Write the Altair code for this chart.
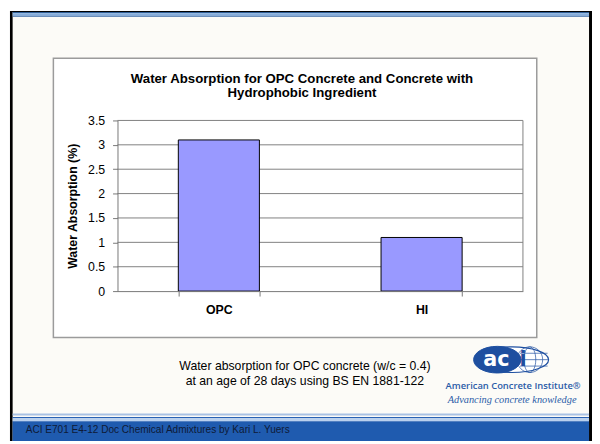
import altair as alt
import pandas as pd

# ---------------- data ----------------
categories = ["OPC", "HI"]
absorption = [3.1, 1.1]
y_ticks = [0, 0.5, 1, 1.5, 2, 2.5, 3, 3.5]
grid_values = [0.5, 1, 1.5, 2, 2.5, 3, 3.5]

title_lines = ["Water Absorption for OPC Concrete and Concrete with", "Hydrophobic Ingredient"]
y_title = "Water Absorption (%)"
caption_lines = ["Water absorption for OPC concrete (w/c = 0.4)",
                 "at an age of 28 days using BS EN 1881-122"]
footer_text = "ACI  E701 E4-12 Doc  Chemical Admixtures by Kari L. Yuers"
logo_name = "American Concrete Institute\u00ae"
logo_motto = "Advancing concrete knowledge"

df = pd.DataFrame({"cat": categories, "val": absorption})
grid_df = pd.DataFrame({"g": grid_values})

# ---------------- layout helpers ----------------
W, H = 411, 173
OX, OY = 119, 119  # page position of plot origin
FONT = "Liberation Sans"
BLUE = "#1E4FA0"


def px(x):
    return x - OX


def py(y):
    return y - OY


one = alt.Data(values=[{"a": 1}])


def rect(x1, y1, x2, y2, **kw):
    return alt.Chart(one).mark_rect(**kw).encode(
        x=alt.value(px(x1)), x2=alt.value(px(x2)),
        y=alt.value(py(y1)), y2=alt.value(py(y2)))


def text(x, y, t, **kw):
    return alt.Chart(one).mark_text(text=t, **kw).encode(
        x=alt.value(px(x)), y=alt.value(py(y)))


def ellipse(cx, cy, rx, ry, **kw):
    a = rx / ry
    k = 0.5523
    path = (f"M{-a},0 C{-a},{-k} {-k*a},-1 0,-1 C{k*a},-1 {a},{-k} {a},0 "
            f"C{a},{k} {k*a},1 0,1 C{-k*a},1 {-a},{k} {-a},0 Z")
    return alt.Chart(one).mark_point(shape=path, size=(2 * ry) ** 2, opacity=1, **kw).encode(
        x=alt.value(px(cx)), y=alt.value(py(cy)))


def hline(x1, x2, y, **kw):
    return alt.Chart(one).mark_rule(**kw).encode(
        x=alt.value(px(x1)), x2=alt.value(px(x2)), y=alt.value(py(y)))


# ---------------- slide decoration ----------------
deco = [
    rect(10, 8, 600, 444, fill="black"),
    rect(12.7, 9, 597, 444, fill="#FCFBF7"),
    # top stripes
    rect(12.7, 9, 597, 10.3, fill="#2F5F98"),
    rect(12.7, 10.3, 597, 12.8, fill="#86AEDC"),
    rect(12.7, 12.8, 597, 14, fill="#3A6AA6"),
    # footer
    rect(12.7, 416, 597, 418, fill="#A9C2E4"),
    rect(12.7, 419.5, 597, 421, fill="#2A62B4"),
    rect(12.7, 421, 597, 424, fill="#B9D0EE"),
    rect(12.7, 424, 597, 444, fill="#1F5BAF"),
    text(26, 433, footer_text, font=FONT, fontSize=10.2, color="#0E1A36", align="left", baseline="middle"),
    # chart box
    rect(54, 56, 544, 339, fill="white", stroke="#9B9B9B", strokeWidth=1.5),
    # caption
    text(309, 368.3, caption_lines, font=FONT, fontSize=12.4, lineHeight=15, color="black",
         align="center", baseline="middle"),
    # logo
    ellipse(519, 361.5, 37, 13, fill="white", stroke=BLUE, strokeWidth=1.2),
    ellipse(537, 361.5, 6, 13, fill="transparent", stroke=BLUE, strokeWidth=0.7),
    ellipse(537, 361.5, 13, 13, fill="transparent", stroke=BLUE, strokeWidth=0.7),
    hline(527, 555, 355, color=BLUE, strokeWidth=0.7),
    hline(527, 556, 361.5, color=BLUE, strokeWidth=0.7),
    hline(527, 555, 368, color=BLUE, strokeWidth=0.7),
    ellipse(504, 361.5, 24, 13.5, fill=BLUE, stroke=BLUE, strokeWidth=1),
    text(503, 362, "ac", font="DejaVu Sans", fontSize=21, fontWeight="bold", color="white",
         align="center", baseline="middle"),
    text(530, 362, "i", font="DejaVu Sans", fontSize=21, fontWeight="bold", color=BLUE,
         align="center", baseline="middle"),
    text(520, 388, logo_name, font="Open Sans", fontSize=9.5, fontWeight=600, color="#2B5BA8",
         align="center", baseline="middle"),
    text(519, 402, logo_motto, font="Liberation Serif", fontSize=10.5, fontStyle="italic",
         color="#2B5BA8", align="center", baseline="middle"),
    # chart title
    text(306, 76.7, title_lines, font=FONT, fontSize=13.4, fontWeight="bold", lineHeight=15,
         color="black", align="center", baseline="middle"),
]

# ---------------- chart ----------------
y_scale = alt.Scale(domain=[0, 3.5], nice=False)
y_axis = alt.Axis(values=y_ticks, format="~g", title=y_title, titleFont=FONT,
                  titleFontSize=12.5, titleFontWeight="bold", titleColor="black",
                  labelFont=FONT, labelFontSize=12.5, labelColor="black",
                  tickSize=5, tickColor="#777777", domainColor="#777777",
                  labelPadding=8, titlePadding=8, grid=False, zindex=2)

grid = alt.Chart(grid_df).mark_rule(color="#808080", strokeWidth=1).encode(
    y=alt.Y("g:Q", scale=y_scale, axis=y_axis),
    x=alt.value(0), x2=alt.value(W))

right_border = alt.Chart(one).mark_rule(color="#808080", strokeWidth=1).encode(
    x=alt.value(W), y=alt.value(0), y2=alt.value(H))

bars = alt.Chart(df).mark_bar(fill="#9999FF", stroke="black", strokeWidth=1).encode(
    x=alt.X("cat:N", sort=categories,
            scale=alt.Scale(paddingInner=0.6, paddingOuter=0.3),
            axis=alt.Axis(title=None, labelFont=FONT, labelFontSize=12.5, labelFontWeight="bold",
                          labelColor="black", labelAngle=0, domainColor="#777777",
                          tickColor="#777777", tickSize=5, tickBand="extent",
                          labelPadding=8, grid=False, zindex=2)),
    y=alt.Y("val:Q", scale=y_scale, axis=y_axis),
)

chart = alt.layer(*deco, grid, right_border, bars).properties(
    width=W, height=H,
    padding={"left": 111, "top": 111, "right": 70, "bottom": 152},
    autosize=alt.AutoSizeParams(type="none"),
    background="white",
).configure_view(stroke=None)

chart.save("out.html", embed_options={"renderer": "svg", "actions": False})
